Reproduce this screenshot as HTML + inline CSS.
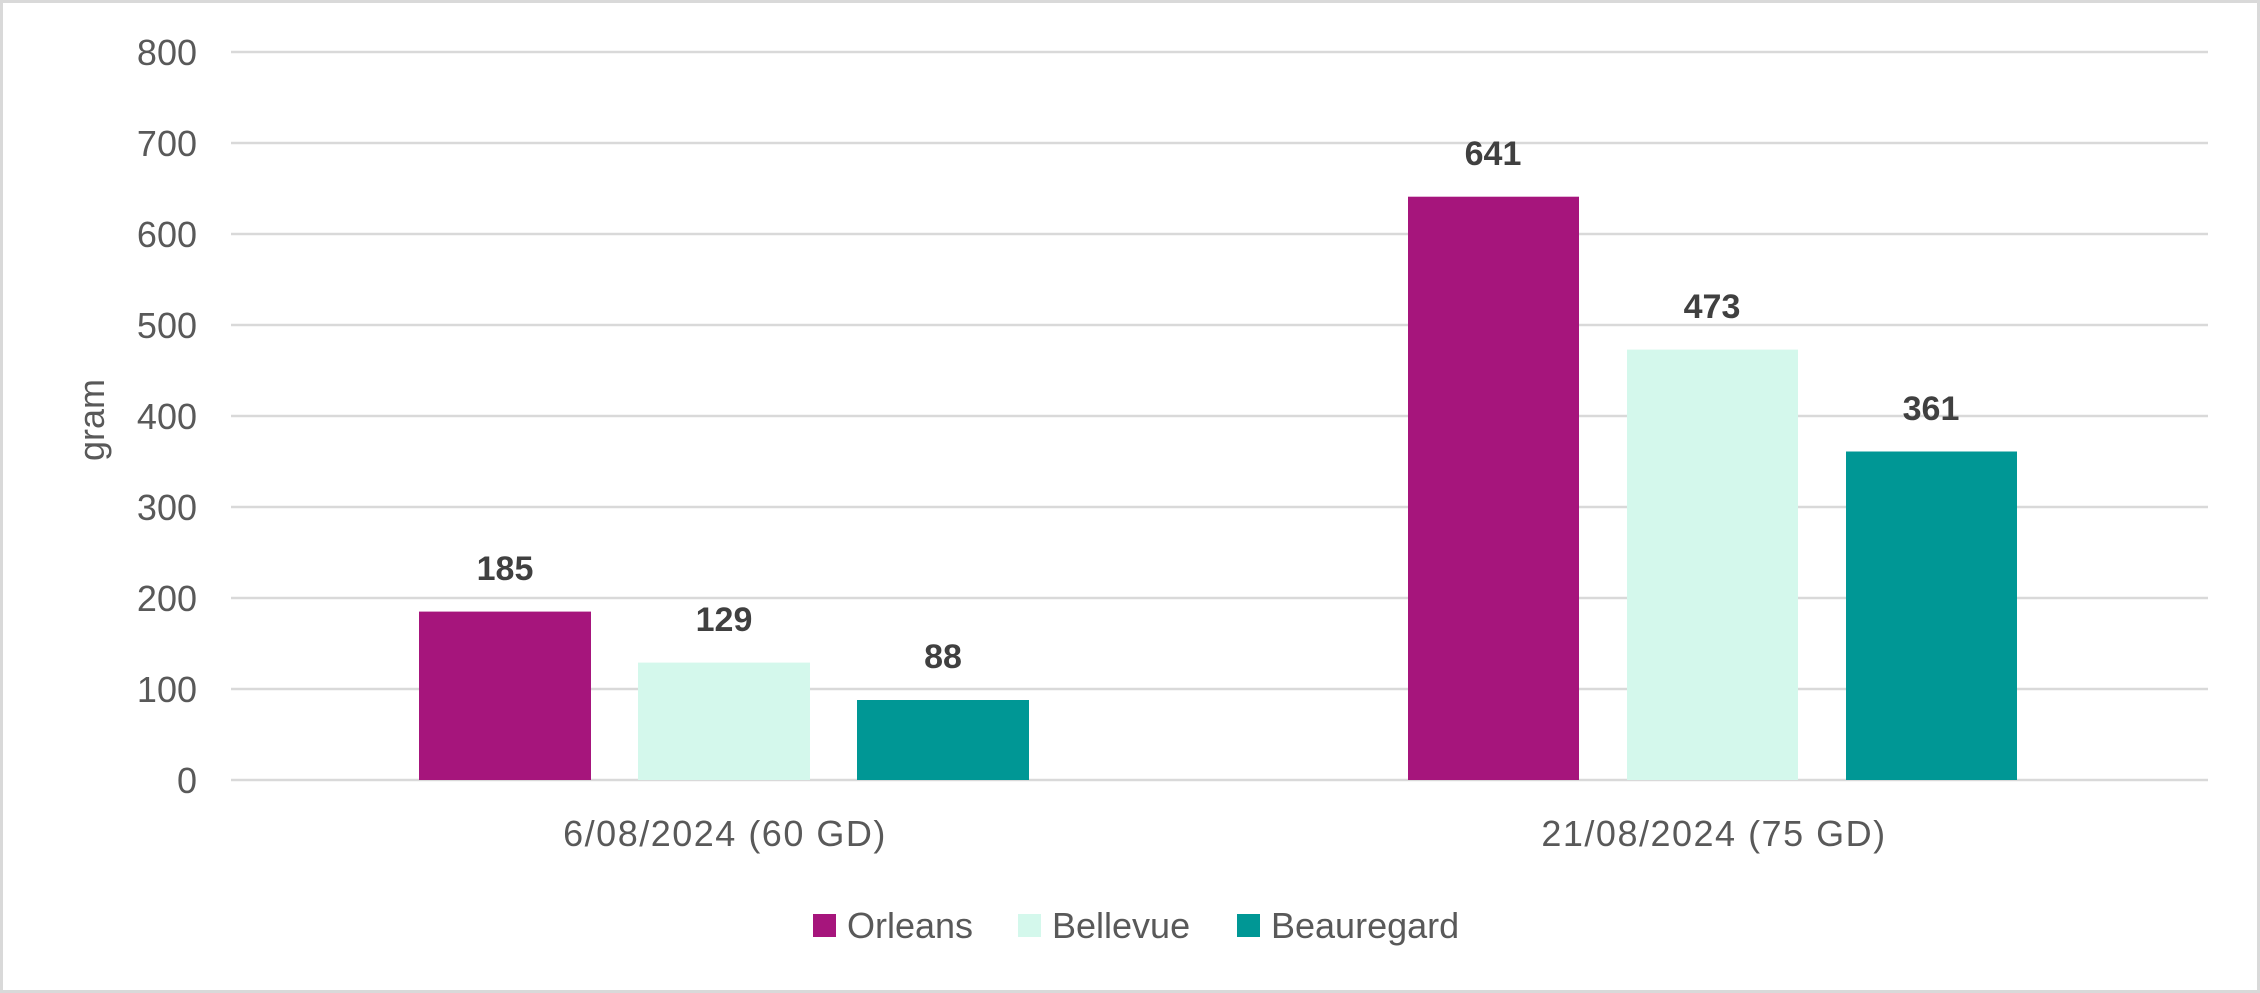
<!DOCTYPE html>
<html><head><meta charset="utf-8"><style>
html,body{margin:0;padding:0;background:#fff;}
svg{display:block;}
text{font-family:"Liberation Sans",sans-serif;}
</style></head><body>
<svg width="2260" height="993" viewBox="0 0 2260 993" xmlns="http://www.w3.org/2000/svg">
<rect x="1.5" y="1.5" width="2257" height="990" fill="#fff" stroke="#d9d9d9" stroke-width="3"/>
<g stroke="#d9d9d9" stroke-width="2.5">
<line x1="231" x2="2208" y1="52" y2="52"/>
<line x1="231" x2="2208" y1="143" y2="143"/>
<line x1="231" x2="2208" y1="234" y2="234"/>
<line x1="231" x2="2208" y1="325" y2="325"/>
<line x1="231" x2="2208" y1="416" y2="416"/>
<line x1="231" x2="2208" y1="507" y2="507"/>
<line x1="231" x2="2208" y1="598" y2="598"/>
<line x1="231" x2="2208" y1="689" y2="689"/>
<line x1="231" x2="2208" y1="780" y2="780"/>
</g>
<g font-size="36" fill="#595959" text-anchor="end">
<text x="197" y="65">800</text>
<text x="197" y="156">700</text>
<text x="197" y="247">600</text>
<text x="197" y="338">500</text>
<text x="197" y="429">400</text>
<text x="197" y="520">300</text>
<text x="197" y="611">200</text>
<text x="197" y="702">100</text>
<text x="197" y="793">0</text>
</g>
<text transform="translate(104,420) rotate(-90)" font-size="36" fill="#595959" text-anchor="middle">gram</text>
<rect x="419" y="611.6" width="172" height="168.4" fill="#a6157c"/>
<rect x="638" y="662.6" width="172" height="117.4" fill="#d4f8ec"/>
<rect x="857" y="700" width="172" height="80" fill="#009795"/>
<rect x="1408" y="196.7" width="171" height="583.3" fill="#a6157c"/>
<rect x="1627" y="349.6" width="171" height="430.4" fill="#d4f8ec"/>
<rect x="1846" y="451.5" width="171" height="328.5" fill="#009795"/>
<g font-size="34" font-weight="bold" fill="#404040" text-anchor="middle">
<text x="505" y="580">185</text>
<text x="724" y="631">129</text>
<text x="943" y="668">88</text>
<text x="1493" y="165">641</text>
<text x="1712" y="318">473</text>
<text x="1931" y="420">361</text>
</g>
<g font-size="36" fill="#595959" text-anchor="middle" letter-spacing="1.5">
<text x="725" y="846">6/08/2024 (60 GD)</text>
<text x="1714" y="846">21/08/2024 (75 GD)</text>
</g>
<rect x="813" y="914" width="23" height="23" fill="#a6157c"/>
<rect x="1018" y="914" width="23" height="23" fill="#d4f8ec"/>
<rect x="1237" y="914" width="23" height="23" fill="#009795"/>
<g font-size="36" fill="#595959">
<text x="847" y="938">Orleans</text>
<text x="1052" y="938">Bellevue</text>
<text x="1271" y="938">Beauregard</text>
</g>
</svg>
</body></html>
